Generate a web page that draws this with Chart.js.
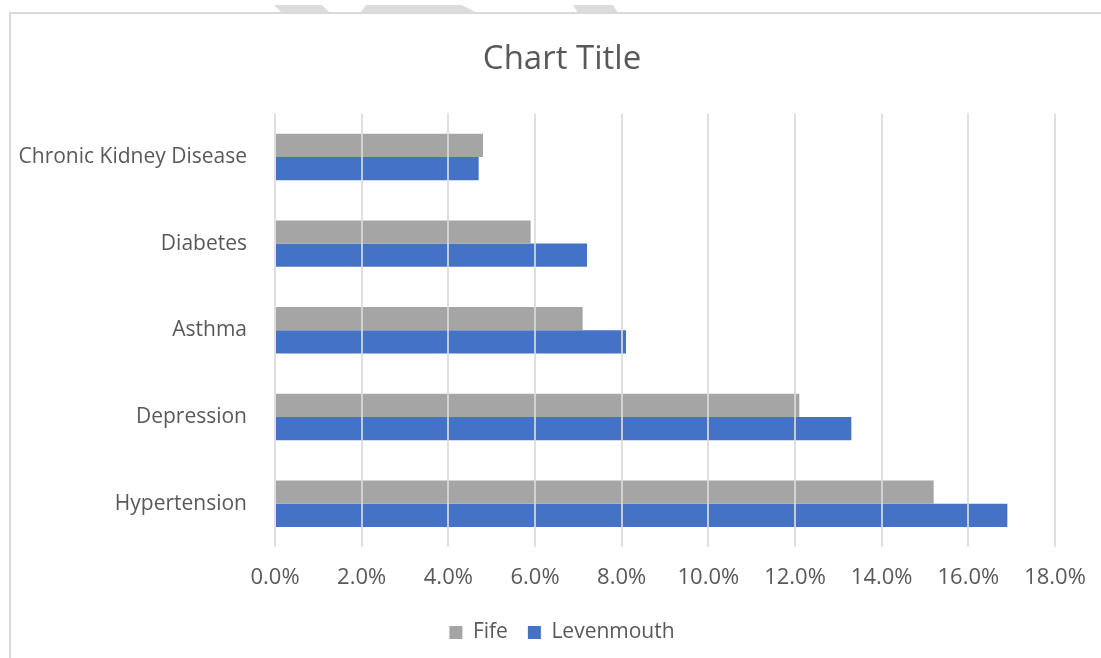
<!DOCTYPE html>
<html>
<head>
<meta charset="utf-8">
<script src="https://cdn.jsdelivr.net/npm/chart.js@4.4.1/dist/chart.umd.min.js"></script>
<style>
  html, body { margin: 0; padding: 0; background: #fff; overflow: hidden; }
  body { width: 1101px; height: 658px; position: relative; }
  #mark { position: absolute; left: 0; top: 0; }
  #frame {
    position: absolute; left: 9px; top: 12px;
    width: 1104px; height: 650px;
    border: 2px solid #d9d9d9; box-sizing: border-box;
  }
  #wrap { position: absolute; left: 10px; top: 14px; width: 1104px; height: 644px; }
</style>
</head>
<body>
<!-- faint watermark cut off at the top of the picture -->
<svg id="mark" width="1101" height="14">
  <polygon points="274,5 322,5 330,13 282,13" fill="#dcdcdc"/>
  <polygon points="366,5 462,5 477,13 360,13" fill="#dcdcdc"/>
  <polygon points="573,5 613,5 618,13 578,13" fill="#dcdcdc"/>
</svg>
<div id="frame"></div>
<div id="wrap"><canvas id="chart"></canvas></div>
<script>
// data
const categories = ['Chronic Kidney Disease', 'Diabetes', 'Asthma', 'Depression', 'Hypertension'];
const fifeValues = [4.8, 5.9, 7.1, 12.1, 15.2];
const levenmouthValues = [4.7, 7.2, 8.1, 13.3, 16.9];
const xTicks = [0, 2, 4, 6, 8, 10, 12, 14, 16, 18];

const FONT = "'Open Sans', 'Noto Sans', sans-serif";
const TEXT = '#595959';

const ctx = document.getElementById('chart').getContext('2d');
new Chart(ctx, {
    type: 'bar',
    data: {
        labels: categories,
        datasets: [
            { label: 'Fife', data: fifeValues, backgroundColor: '#a5a5a5' },
            { label: 'Levenmouth', data: levenmouthValues, backgroundColor: '#4472c4' }
        ]
    },
    options: {
        indexAxis: 'y',
        responsive: true,
        maintainAspectRatio: false,
        animation: false,
        layout: { padding: { left: 0, right: 0, top: 0, bottom: 5 } },
        datasets: {
            bar: { categoryPercentage: 0.536, barPercentage: 1.0, borderWidth: 0 }
        },
        scales: {
            x: {
                min: 0,
                max: 18,
                afterBuildTicks: function(scale) {
                    scale.ticks = xTicks.map(v => ({ value: v }));
                },
                afterFit: function(scale) { scale.height = 55; },
                grid: { color: 'rgba(217,217,217,0.85)', lineWidth: 2, drawTicks: false, z: 1 },
                border: { display: false },
                ticks: {
                    padding: 18,
                    color: TEXT,
                    font: { family: FONT, size: 22 },
                    callback: function(value) { return value.toFixed(1) + '%'; }
                }
            },
            y: {
                afterFit: function(scale) { scale.width = 265; },
                grid: { display: false },
                border: { display: false },
                ticks: {
                    padding: 20,
                    color: TEXT,
                    font: { family: FONT, size: 21 }
                }
            },
            // empty right-hand axis: keeps room on the right without shifting title/legend
            spacer: {
                type: 'linear',
                position: 'right',
                afterFit: function(scale) { scale.width = 59; },
                grid: { display: false },
                border: { display: false },
                ticks: { display: false }
            }
        },
        plugins: {
            title: {
                display: true,
                text: 'Chart Title',
                color: TEXT,
                font: { family: FONT, size: 33, weight: 'normal' },
                padding: { top: 26, bottom: 34 }
            },
            legend: {
                position: 'bottom',
                labels: {
                    color: TEXT,
                    font: { family: FONT, size: 21 },
                    boxWidth: 13,
                    boxHeight: 13,
                    padding: 20
                }
            },
            tooltip: { enabled: false }
        }
    }
});
</script>
</body>
</html>
